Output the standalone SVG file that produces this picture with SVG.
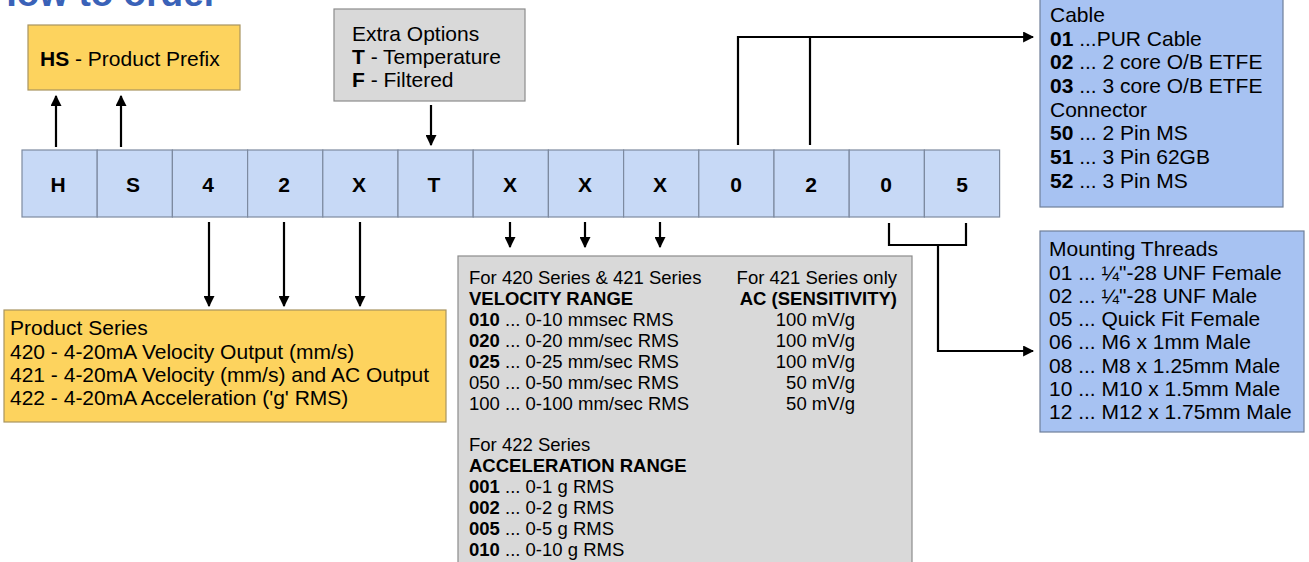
<svg xmlns="http://www.w3.org/2000/svg" width="1309" height="562" viewBox="0 0 1309 562">
<defs>
<style>
text{font-family:"Liberation Sans",Arial,sans-serif;fill:#000}
.t16{font-size:18.5px}
.t18{font-size:21px}
.code{font-size:21px;font-weight:bold;text-anchor:middle}
.b{font-weight:bold}
.yellow{fill:#fdd35e;stroke:#a89460;stroke-width:1.2}
.gray{fill:#d9d9d9;stroke:#8c8c8c;stroke-width:1.2}
.blue{fill:#a7c2f2;stroke:#6f7f99;stroke-width:1.2}
.cell{fill:#c7d9f6;stroke:#7d8aa0;stroke-width:1.2}
.ln{fill:none;stroke:#000;stroke-width:2.2}
</style>
<marker id="ah" viewBox="0 0 10 10" refX="9" refY="5" markerWidth="5" markerHeight="5" markerUnits="strokeWidth" orient="auto">
<path d="M0,0 L10,5 L0,10 z" fill="#000"/>
</marker>
</defs>
<rect width="1309" height="562" fill="#fff"/>
<text x="-10" y="6" style="font-size:37px;font-weight:bold;fill:#3a62b8">How to order</text>

<g id="code-row">
<rect class="cell" x="22" y="150" width="75.2" height="67"/>
<rect class="cell" x="97.2" y="150" width="75.2" height="67"/>
<rect class="cell" x="172.4" y="150" width="75.2" height="67"/>
<rect class="cell" x="247.6" y="150" width="75.2" height="67"/>
<rect class="cell" x="322.8" y="150" width="75.2" height="67"/>
<rect class="cell" x="398" y="150" width="75.2" height="67"/>
<rect class="cell" x="473.2" y="150" width="75.2" height="67"/>
<rect class="cell" x="548.4" y="150" width="75.2" height="67"/>
<rect class="cell" x="623.6" y="150" width="75.2" height="67"/>
<rect class="cell" x="698.8" y="150" width="75.2" height="67"/>
<rect class="cell" x="774" y="150" width="75.2" height="67"/>
<rect class="cell" x="849.2" y="150" width="75.2" height="67"/>
<rect class="cell" x="924.4" y="150" width="75.2" height="67"/>
<text class="code" x="58" y="192">H</text>
<text class="code" x="133" y="192">S</text>
<text class="code" x="208" y="192">4</text>
<text class="code" x="284" y="192">2</text>
<text class="code" x="359" y="192">X</text>
<text class="code" x="434" y="192">T</text>
<text class="code" x="510" y="192">X</text>
<text class="code" x="585" y="192">X</text>
<text class="code" x="660" y="192">X</text>
<text class="code" x="736" y="192">0</text>
<text class="code" x="811" y="192">2</text>
<text class="code" x="886" y="192">0</text>
<text class="code" x="962" y="192">5</text>
</g>

<g id="prefix">
<rect class="yellow" x="28" y="25" width="212" height="65"/>
<text class="t18" x="40" y="66"><tspan class="b">HS</tspan> - Product Prefix</text>
</g>

<g id="extra-options">
<rect class="gray" x="334" y="9" width="191" height="92"/>
<text class="t18" x="352" y="41">Extra Options</text>
<text class="t18" x="352" y="64"><tspan class="b">T</tspan> - Temperature</text>
<text class="t18" x="352" y="87"><tspan class="b">F</tspan> - Filtered</text>
</g>

<g id="cable">
<rect class="blue" x="1040" y="-2" width="243" height="209"/>
<text class="t18" x="1050" y="22">Cable</text>
<text class="t18" x="1050" y="46"><tspan class="b">01</tspan> ...PUR Cable</text>
<text class="t18" x="1050" y="69"><tspan class="b">02</tspan> ... 2 core O/B ETFE</text>
<text class="t18" x="1050" y="93"><tspan class="b">03</tspan> ... 3 core O/B ETFE</text>
<text class="t18" x="1050" y="117">Connector</text>
<text class="t18" x="1050" y="140"><tspan class="b">50</tspan> ... 2 Pin MS</text>
<text class="t18" x="1050" y="164"><tspan class="b">51</tspan> ... 3 Pin 62GB</text>
<text class="t18" x="1050" y="188"><tspan class="b">52</tspan> ... 3 Pin MS</text>
</g>

<g id="mounting">
<rect class="blue" x="1040" y="231" width="264" height="201"/>
<text class="t18" x="1049" y="256">Mounting Threads</text>
<text class="t18" x="1049" y="280">01 ... ¼"-28 UNF Female</text>
<text class="t18" x="1049" y="303">02 ... ¼"-28 UNF Male</text>
<text class="t18" x="1049" y="326">05 ... Quick Fit Female</text>
<text class="t18" x="1049" y="349">06 ... M6 x 1mm Male</text>
<text class="t18" x="1049" y="373">08 ... M8 x 1.25mm Male</text>
<text class="t18" x="1049" y="396">10 ... M10 x 1.5mm Male</text>
<text class="t18" x="1049" y="419">12 ... M12 x 1.75mm Male</text>
</g>

<g id="product-series">
<rect class="yellow" x="4" y="310" width="442" height="112"/>
<text class="t18" x="10" y="335">Product Series</text>
<text class="t18" x="10" y="359">420 - 4-20mA Velocity Output (mm/s)</text>
<text class="t18" x="10" y="382">421 - 4-20mA Velocity (mm/s) and AC Output</text>
<text class="t18" x="10" y="405">422 - 4-20mA Acceleration ('g' RMS)</text>
</g>

<g id="range">
<rect class="gray" x="458" y="256" width="454" height="310"/>
<text class="t16" x="469" y="284">For 420 Series &amp; 421 Series</text>
<text class="t16 b" x="469" y="305">VELOCITY RANGE</text>
<text class="t16" x="469" y="326"><tspan class="b">010</tspan> ... 0-10 mmsec RMS</text>
<text class="t16" x="469" y="347"><tspan class="b">020</tspan> ... 0-20 mm/sec RMS</text>
<text class="t16" x="469" y="368"><tspan class="b">025</tspan> ... 0-25 mm/sec RMS</text>
<text class="t16" x="469" y="389">050 ... 0-50 mm/sec RMS</text>
<text class="t16" x="469" y="410">100 ... 0-100 mm/sec RMS</text>
<text class="t16" x="897" y="284" text-anchor="end">For 421 Series only</text>
<text class="t16 b" x="897" y="305" text-anchor="end">AC (SENSITIVITY)</text>
<text class="t16" x="855" y="326" text-anchor="end">100 mV/g</text>
<text class="t16" x="855" y="347" text-anchor="end">100 mV/g</text>
<text class="t16" x="855" y="368" text-anchor="end">100 mV/g</text>
<text class="t16" x="855" y="389" text-anchor="end">50 mV/g</text>
<text class="t16" x="855" y="410" text-anchor="end">50 mV/g</text>
<text class="t16" x="469" y="451">For 422 Series</text>
<text class="t16 b" x="469" y="472">ACCELERATION RANGE</text>
<text class="t16" x="469" y="493"><tspan class="b">001</tspan> ... 0-1 g RMS</text>
<text class="t16" x="469" y="514"><tspan class="b">002</tspan> ... 0-2 g RMS</text>
<text class="t16" x="469" y="535"><tspan class="b">005</tspan> ... 0-5 g RMS</text>
<text class="t16" x="469" y="556"><tspan class="b">010</tspan> ... 0-10 g RMS</text>
</g>

<g id="connectors">
<line class="ln" x1="56" y1="147" x2="56" y2="96" marker-end="url(#ah)"/>
<line class="ln" x1="121" y1="147" x2="121" y2="96" marker-end="url(#ah)"/>
<line class="ln" x1="431" y1="105" x2="431" y2="145" marker-end="url(#ah)"/>
<line class="ln" x1="209" y1="222" x2="209" y2="306" marker-end="url(#ah)"/>
<line class="ln" x1="284" y1="222" x2="284" y2="306" marker-end="url(#ah)"/>
<line class="ln" x1="360" y1="222" x2="360" y2="306" marker-end="url(#ah)"/>
<line class="ln" x1="510" y1="222" x2="510" y2="247" marker-end="url(#ah)"/>
<line class="ln" x1="585" y1="222" x2="585" y2="247" marker-end="url(#ah)"/>
<line class="ln" x1="660" y1="222" x2="660" y2="247" marker-end="url(#ah)"/>
<path class="ln" d="M738,145 V37 H1033" marker-end="url(#ah)"/>
<line class="ln" x1="810" y1="145" x2="810" y2="37"/>
<path class="ln" d="M889,223 V245 H966 V223"/>
<path class="ln" d="M938,245 V351 H1033" marker-end="url(#ah)"/>
</g>
</svg>
